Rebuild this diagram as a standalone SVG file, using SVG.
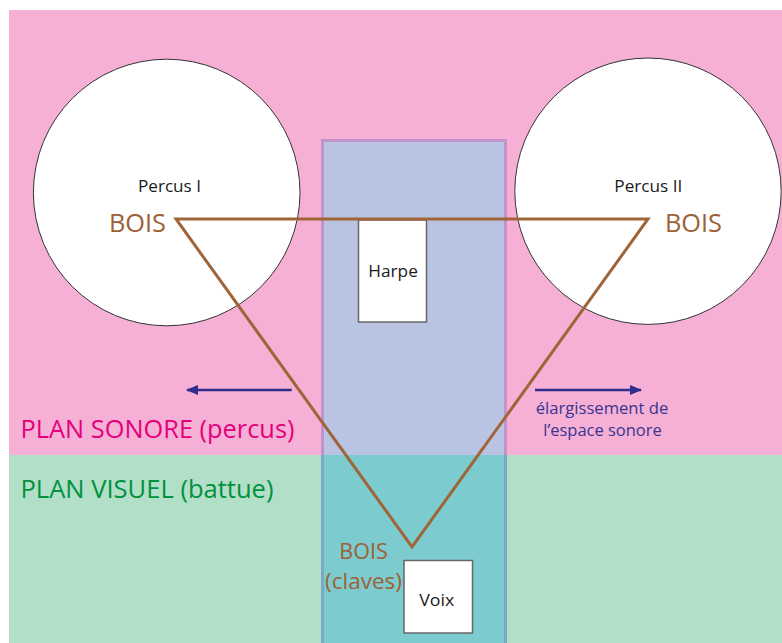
<svg xmlns="http://www.w3.org/2000/svg" width="782" height="643" viewBox="0 0 782 643">
<defs>
<style>
.t{font-family:"Open Sans","Noto Sans","Liberation Sans",sans-serif;}
.blk{fill:#1a1a1a;font-size:17px;}
.bois{fill:#9c6136;font-size:26px;}
.box{fill:#ffffff;stroke:#666666;stroke-width:1.5;}
.circ{fill:#ffffff;stroke:#333333;stroke-width:1;}
.tri{fill:none;stroke:#9f6539;stroke-width:3;}
.arr{stroke:#2e2d8c;stroke-width:2.5;fill:none;}
.blue{fill:#38358f;font-size:16px;}
.claves{fill:#9c6136;font-size:21px;}
</style>
<marker id="ah" viewBox="0 0 12 10" refX="11" refY="5" markerWidth="12" markerHeight="10" markerUnits="userSpaceOnUse" orient="auto">
<path d="M0,0 L12,5 L0,10 z" fill="#2e2d8c"/>
</marker>
</defs>
<rect x="0" y="0" width="782" height="643" fill="#ffffff"/>
<g id="plan-sonore">
<rect x="9" y="10" width="773" height="445" fill="#f6b0d6"/>
<text class="t" x="20.5" y="438" font-size="25" fill="#e4007c" textLength="274" lengthAdjust="spacingAndGlyphs">PLAN SONORE (percus)</text>
</g>
<g id="plan-visuel">
<rect x="9" y="455" width="773" height="188" fill="#b2dfc8"/>
<text class="t" x="20.5" y="497.5" font-size="25" fill="#00923f" textLength="253" lengthAdjust="spacingAndGlyphs">PLAN VISUEL (battue)</text>
</g>
<g id="colonne">
<rect x="321" y="139" width="186" height="316" fill="#b8c4e2"/>
<rect x="321" y="455" width="186" height="188" fill="#7ccbcf"/>
<path d="M322.5,455 V140.5 H505.5 V455" fill="none" stroke="#c193c8" stroke-width="3"/>
<path d="M322.5,455 V643 M505.5,455 V643" fill="none" stroke="#79a9c6" stroke-width="3"/>
</g>
<g id="percus-1">
<circle class="circ" cx="166.7" cy="192.5" r="133.3"/>
<text class="t blk" x="138" y="191.5" textLength="63" lengthAdjust="spacingAndGlyphs">Percus I</text>
<text class="t bois" x="109" y="232" textLength="57" lengthAdjust="spacingAndGlyphs">BOIS</text>
</g>
<g id="percus-2">
<circle class="circ" cx="648" cy="191.2" r="133.2"/>
<text class="t blk" x="614.3" y="191.5" textLength="68" lengthAdjust="spacingAndGlyphs">Percus II</text>
<text class="t bois" x="665" y="232" textLength="57" lengthAdjust="spacingAndGlyphs">BOIS</text>
</g>
<g id="harpe">
<rect class="box" x="358.5" y="220" width="68" height="102"/>
<text class="t blk" x="368.3" y="277" font-size="18" textLength="49.5" lengthAdjust="spacingAndGlyphs">Harpe</text>
</g>
<g id="voix">
<rect class="box" x="404" y="560.5" width="68.5" height="72.5"/>
<text class="t blk" x="419.3" y="606" font-size="18" textLength="35" lengthAdjust="spacingAndGlyphs">Voix</text>
</g>
<g id="bois-claves">
<text class="t claves" x="339.3" y="559.3" textLength="48.5" lengthAdjust="spacingAndGlyphs">BOIS</text>
<text class="t claves" x="325" y="588.5" textLength="77" lengthAdjust="spacingAndGlyphs">(claves)</text>
</g>
<g id="elargissement">
<text class="t blue" x="535.7" y="414.3" textLength="132.6" lengthAdjust="spacingAndGlyphs">élargissement de</text>
<text class="t blue" x="543.3" y="436" textLength="118.4" lengthAdjust="spacingAndGlyphs">l’espace sonore</text>
</g>
<g id="connecteurs">
<polygon class="tri" points="176,219 648,219 412,547"/>
<line class="arr" x1="291.7" y1="390" x2="187" y2="390" marker-end="url(#ah)"/>
<line class="arr" x1="535" y1="390" x2="641" y2="390" marker-end="url(#ah)"/>
</g>
</svg>
